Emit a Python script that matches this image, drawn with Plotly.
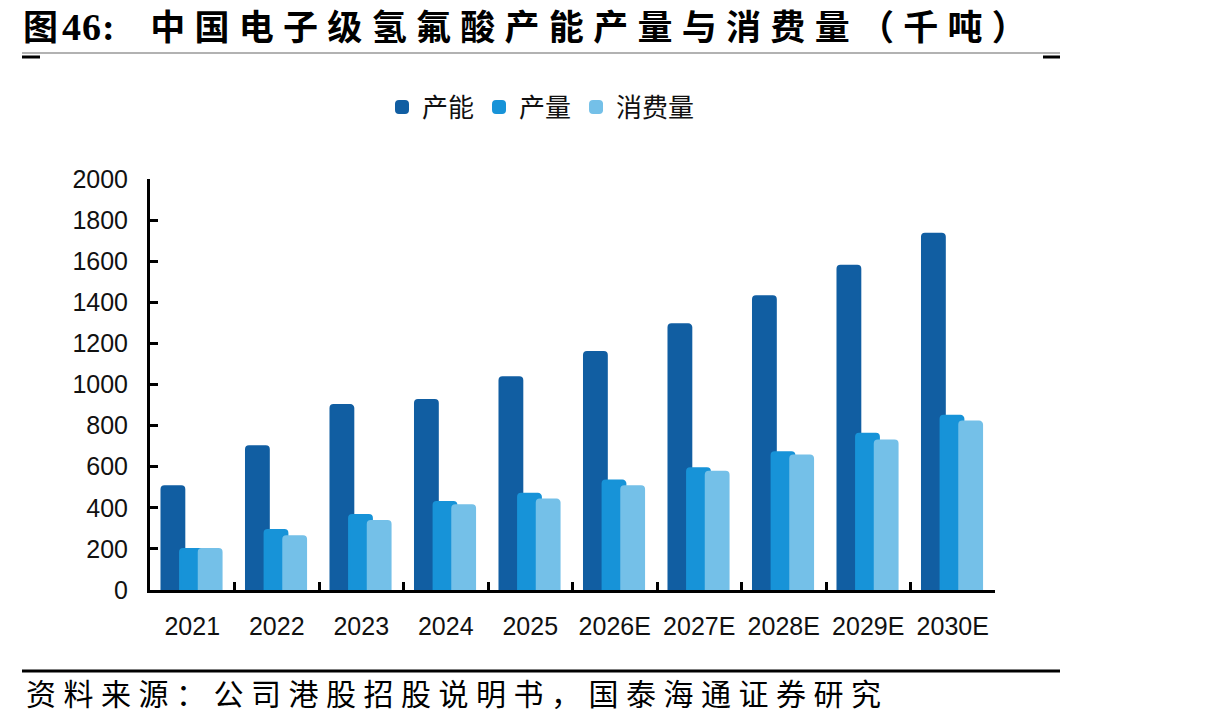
import plotly.graph_objects as go

categories = ["2021", "2022", "2023", "2024", "2025", "2026E", "2027E", "2028E", "2029E", "2030E"]
capacity = [505, 700, 900, 925, 1035, 1158, 1293, 1430, 1578, 1734]
production = [200, 292, 365, 428, 468, 533, 592, 670, 760, 848]
consumption = [200, 262, 336, 412, 440, 505, 576, 655, 728, 820]
series_names = ["产能", "产量", "消费量"]
colors = ["#115EA2", "#1793D8", "#74C0E8"]

title_prefix = "图"
title_number = "46:"
title_main = "中国电子级氢氟酸产能产量与消费量（千吨）"
source_text = "资料来源：公司港股招股说明书，国泰海通证券研究"

W, H = 1213, 725
L, R = 150, 995   # plot area x pixels
T, B = 179, 590   # plot area y pixels


def px(x):
    return (x - L) / (R - L)


def py(y):
    return (B - y) / (B - T)


CJK = "Noto Sans CJK SC"
NUM = "Liberation Sans"

fig = go.Figure()
bw = 0.27
offsets = [-0.364, -0.144, 0.077]
for name, vals, col, off in zip(series_names, [capacity, production, consumption], colors, offsets):
    fig.add_trace(go.Bar(
        x=categories, y=vals, name=name,
        marker=dict(color=col, line=dict(width=2, color=col)),
        width=bw, offset=off,
    ))

title_html = (
    f'<span style="letter-spacing:4px">{title_prefix}</span>'
    f'<span style="font-family:Liberation Serif;font-size:38px;letter-spacing:1px">{title_number}</span>'
    f'<span style="letter-spacing:9.3px">  {title_main}</span>'
)

fig.update_layout(
    width=W, height=H,
    margin=dict(l=L, r=W - R, t=T, b=H - B),
    paper_bgcolor="white", plot_bgcolor="white",
    barmode="overlay",
    barcornerradius=3,
    showlegend=True,
    legend=dict(
        orientation="h", x=px(541), y=py(107), xanchor="center", yanchor="middle",
        font=dict(family=CJK, size=26, color="#111111"),
        itemwidth=30, tracegroupgap=0,
    ),
    title=dict(
        text=title_html,
        font=dict(family=CJK, size=35, color="black", weight="bold"),
        xref="container", yref="container", x=23 / W, y=1 - 28 / H,
        xanchor="left", yanchor="middle",
    ),
    xaxis=dict(
        type="category",
        showline=True, linecolor="black", linewidth=3,
        ticks="inside", tickson="boundaries", ticklen=8, tickwidth=3, tickcolor="black",
        tickfont=dict(family=NUM, size=25, color="#111111"),
        ticklabelstandoff=12,
        showgrid=False, zeroline=False,
        range=[-0.5, 9.5],
    ),
    yaxis=dict(
        range=[0, 2000], dtick=200, tick0=0,
        showline=True, linecolor="black", linewidth=3,
        ticks="inside", ticklen=8, tickwidth=3, tickcolor="black",
        tickfont=dict(family=NUM, size=25, color="#111111"),
        ticklabelstandoff=14,
        showgrid=False, zeroline=False,
    ),
    shapes=[
        dict(type="line", xref="paper", yref="paper", x0=px(22), x1=px(1060), y0=py(53), y1=py(53),
             line=dict(color="#999999", width=1.5)),
        dict(type="line", xref="paper", yref="paper", x0=px(22), x1=px(40), y0=py(57), y1=py(57),
             line=dict(color="black", width=3)),
        dict(type="line", xref="paper", yref="paper", x0=px(1043), x1=px(1060), y0=py(57), y1=py(57),
             line=dict(color="black", width=3)),
        dict(type="line", xref="paper", yref="paper", x0=px(22), x1=px(1060), y0=py(671), y1=py(671),
             line=dict(color="black", width=3)),
    ],
    annotations=[
        dict(text=f'<span style="letter-spacing:7.5px">{source_text}</span>', xref="paper", yref="paper",
             x=px(24), y=py(692), xanchor="left", yanchor="middle", showarrow=False,
             font=dict(family=CJK, size=30, color="black")),
    ],
)

fig.write_html("out.html")
